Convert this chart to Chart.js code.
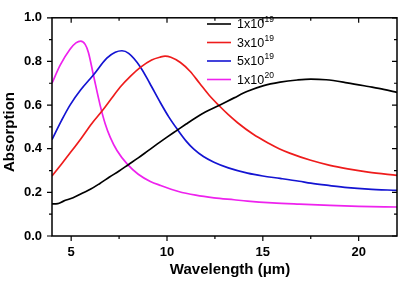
<!DOCTYPE html>
<html>
<head>
<meta charset="utf-8">
<script src="https://cdn.jsdelivr.net/npm/chart.js@4"></script>
<style>
  html, body { margin: 0; padding: 0; background: #fff; }
  #wrap { width: 401px; height: 282px; position: relative; }
</style>
</head>
<body>
<div id="wrap"><canvas id="absChart"></canvas></div>
<script>
// ---------- Data ----------
var wl1e19 = [4, 4.3, 4.6, 5.1, 5.6, 6, 6.5, 7, 7.5, 8, 8.5, 9, 9.5, 10, 10.5, 11, 11.5, 12, 12.71, 13.5, 14.2, 15, 15.9, 16.8, 17.5, 18.3, 19.4, 20.5, 21.3, 22];
var abs1e19 = [0.147, 0.148, 0.16, 0.175, 0.197, 0.214, 0.241, 0.27, 0.298, 0.328, 0.358, 0.39, 0.422, 0.453, 0.483, 0.513, 0.542, 0.568, 0.598, 0.633, 0.663, 0.688, 0.705, 0.715, 0.719, 0.716, 0.702, 0.685, 0.672, 0.658];

var wl3e19 = [4, 4.5, 4.94, 5.5, 6.08, 6.63, 7.1, 7.56, 8.1, 8.61, 9.2, 9.65, 9.9, 10.2, 10.7, 11.2, 11.7, 12.2, 12.71, 13.2, 13.7, 14.5, 15.3, 15.85, 16.4, 17.5, 18.5, 19.43, 20.5, 22];
var abs3e19 = [0.275, 0.33, 0.38, 0.445, 0.516, 0.575, 0.63, 0.683, 0.733, 0.773, 0.807, 0.82, 0.824, 0.819, 0.795, 0.755, 0.70, 0.645, 0.598, 0.556, 0.518, 0.466, 0.425, 0.40, 0.38, 0.347, 0.324, 0.308, 0.293, 0.278];

var wl5e19 = [4, 4.5, 4.94, 5.5, 6.16, 6.86, 7.3, 7.65, 8.0, 8.61, 9.1, 9.65, 10.1, 10.53, 11, 11.4, 11.9, 12.45, 13.2, 14.2, 15, 15.9, 16.9, 17.5, 18.5, 19.43, 20.5, 22];
var abs5e19 = [0.442, 0.53, 0.60, 0.67, 0.738, 0.815, 0.842, 0.849, 0.837, 0.775, 0.70, 0.612, 0.545, 0.49, 0.435, 0.398, 0.364, 0.338, 0.312, 0.288, 0.275, 0.264, 0.251, 0.242, 0.231, 0.222, 0.215, 0.209];

var wl1e20 = [4, 4.42, 4.94, 5.25, 5.5, 5.73, 5.9, 6.16, 6.51, 6.77, 7.04, 7.39, 7.94, 8.5, 9.13, 9.65, 10.6, 11.5, 12.45, 13.5, 14.2, 15.5, 16.9, 18.5, 20, 22];
var abs1e20 = [0.70, 0.782, 0.856, 0.885, 0.893, 0.878, 0.841, 0.738, 0.60, 0.516, 0.452, 0.392, 0.328, 0.283, 0.25, 0.232, 0.204, 0.187, 0.175, 0.166, 0.16, 0.152, 0.146, 0.14, 0.136, 0.133];

var seriesBase = ['1x10', '3x10', '5x10', '1x10'];
var seriesExp = ['19', '19', '19', '20'];
var seriesColors = ['#000000', '#ee1c1c', '#1414d2', '#ee22ee'];

var xTicks = [5, 10, 15, 20];
var xMinor = [7.5, 12.5, 17.5];
var yTicks = [0, 0.2, 0.4, 0.6, 0.8, 1.0];
var yMinor = [0.1, 0.3, 0.5, 0.7, 0.9];

var FONT = '"Liberation Sans", Arial, sans-serif';

function toPoints(xs, ys) {
    var pts = [];
    for (var i = 0; i < xs.length; i++) {
        pts.push({ x: xs[i], y: ys[i] });
    }
    return pts;
}

// ---------- Frame, ticks, axis titles and legend ----------
var framePlugin = {
    id: 'frame',
    afterDraw: function(chart) {
        var ctx = chart.ctx;
        var a = chart.chartArea;
        var xs = chart.scales.x;
        var ys = chart.scales.y;

        ctx.save();
        ctx.strokeStyle = '#000';
        ctx.lineWidth = 1.5;
        ctx.strokeRect(a.left, a.top, a.right - a.left, a.bottom - a.top);

        ctx.lineWidth = 1.2;
        ctx.beginPath();
        function xTick(v, len) {
            var px = xs.getPixelForValue(v);
            ctx.moveTo(px, a.bottom); ctx.lineTo(px, a.bottom + len);
            ctx.moveTo(px, a.top); ctx.lineTo(px, a.top + len);
        }
        function yTick(v, len) {
            var py = ys.getPixelForValue(v);
            ctx.moveTo(a.left, py); ctx.lineTo(a.left - len, py);
            ctx.moveTo(a.right, py); ctx.lineTo(a.right - len, py);
        }
        xTicks.forEach(function(v) { xTick(v, 5); });
        xMinor.forEach(function(v) { xTick(v, 3); });
        yTicks.forEach(function(v) { yTick(v, 5); });
        yMinor.forEach(function(v) { yTick(v, 3); });
        ctx.stroke();

        // Axis titles
        ctx.fillStyle = '#000';
        ctx.font = 'bold 15px ' + FONT;
        ctx.textAlign = 'center';
        ctx.textBaseline = 'middle';
        ctx.fillText('Wavelength (\u03bcm)', 230, 270);
        ctx.translate(10, 132);
        ctx.rotate(-Math.PI / 2);
        ctx.fillText('Absorption', 0, 0);
        ctx.restore();

        // Legend
        ctx.save();
        ctx.textBaseline = 'middle';
        ctx.textAlign = 'left';
        chart.data.datasets.forEach(function(ds, i) {
            var y = 24 + i * 18.5;
            ctx.strokeStyle = ds.borderColor;
            ctx.lineWidth = 1.6;
            ctx.beginPath();
            ctx.moveTo(207, y);
            ctx.lineTo(231, y);
            ctx.stroke();
            ctx.fillStyle = '#000';
            ctx.font = '12.5px ' + FONT;
            ctx.fillText(seriesBase[i], 237, y + 1);
            var w = ctx.measureText(seriesBase[i]).width;
            ctx.font = '8.5px ' + FONT;
            ctx.fillText(seriesExp[i], 237 + w + 0.5, y - 4);
        });
        ctx.restore();
    }
};

// ---------- Chart ----------
var ctx = document.getElementById('absChart').getContext('2d');
var datasets = [
    [wl1e19, abs1e19],
    [wl3e19, abs3e19],
    [wl5e19, abs5e19],
    [wl1e20, abs1e20]
].map(function(s, i) {
    return {
        label: seriesBase[i] + '^' + seriesExp[i],
        data: toPoints(s[0], s[1]),
        borderColor: seriesColors[i],
        borderWidth: 1.7,
        pointRadius: 0,
        cubicInterpolationMode: 'monotone',
        fill: false
    };
});

new Chart(ctx, {
    type: 'line',
    data: { datasets: datasets },
    options: {
        responsive: true,
        maintainAspectRatio: false,
        animation: false,
        events: [],
        layout: { padding: { top: 11, right: 4, left: 0, bottom: 0 } },
        plugins: {
            legend: { display: false },
            tooltip: { enabled: false }
        },
        scales: {
            x: {
                type: 'linear',
                min: 4,
                max: 22,
                afterBuildTicks: function(scale) {
                    scale.ticks = xTicks.map(function(v) { return { value: v }; });
                },
                afterFit: function(scale) { scale.height = 46; },
                grid: { display: false, drawTicks: false },
                border: { display: false },
                ticks: {
                    padding: 9,
                    color: '#000',
                    maxRotation: 0,
                    font: { family: FONT, size: 13, weight: 'bold' }
                }
            },
            y: {
                min: 0,
                max: 1,
                afterBuildTicks: function(scale) {
                    scale.ticks = yTicks.map(function(v) { return { value: v }; });
                },
                afterFit: function(scale) { scale.width = 52; },
                grid: { display: false, drawTicks: false },
                border: { display: false },
                ticks: {
                    padding: 10,
                    color: '#000',
                    font: { family: FONT, size: 13, weight: 'bold' },
                    callback: function(v) { return Number(v).toFixed(1); }
                }
            }
        }
    },
    plugins: [framePlugin]
});
</script>
</body>
</html>
